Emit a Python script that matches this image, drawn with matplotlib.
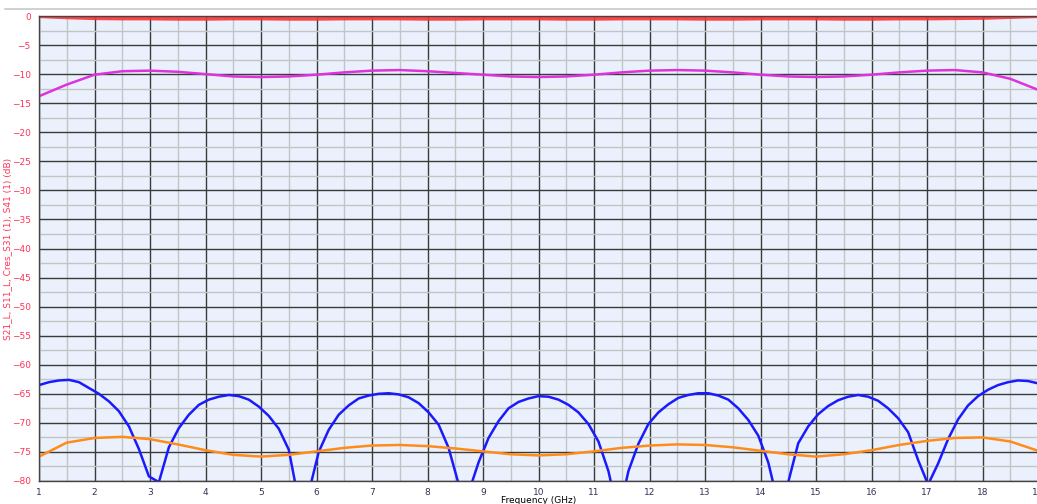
import numpy as np
import matplotlib
matplotlib.use("Agg")
import matplotlib.pyplot as plt
from matplotlib.lines import Line2D
from matplotlib.ticker import MultipleLocator

# blue trace, sampled at 101 points between 1 and 19 GHz
f_fine = np.linspace(1, 19, 101)
s31 = [-63.5, -63.0, -62.7, -62.6, -63.0, -64.0, -65.0, -66.3, -68.0, -70.6,
       -74.5, -79.2, -80.2, -74.2, -70.9, -68.6, -66.9, -66.0, -65.5, -65.2,
       -65.4, -66.0, -67.2, -68.8, -71.0, -74.6, -83.5, -82.0, -75.0, -71.2,
       -68.6, -67.0, -65.8, -65.3, -65.0, -64.9, -65.1, -65.6, -66.6, -68.2,
       -70.3, -74.3, -80.5, -82.0, -76.8, -72.6, -69.7, -67.5, -66.4, -65.8,
       -65.4, -65.5, -66.0, -66.9, -68.2, -70.2, -73.2, -78.3, -86.0, -78.3,
       -73.6, -70.2, -68.2, -66.8, -65.7, -65.2, -64.9, -64.9, -65.3, -66.0,
       -67.5, -69.5, -72.2, -76.8, -84.0, -80.2, -73.5, -70.6, -68.5, -67.1,
       -66.1, -65.5, -65.2, -65.5, -66.2, -67.5, -69.2, -71.6, -76.4, -80.6,
       -77.0, -72.8, -69.4, -67.0, -65.4, -64.3, -63.5, -63.0, -62.7, -62.8,
       -63.2]

# smooth traces, every 0.5 GHz
f_half = np.arange(1, 19.01, 0.5)
s21 = [-0.05, -0.25, -0.4, -0.45, -0.45, -0.5, -0.5, -0.45, -0.45, -0.5,
       -0.5, -0.45, -0.45, -0.45, -0.5, -0.5, -0.45, -0.45, -0.45, -0.5,
       -0.5, -0.45, -0.45, -0.45, -0.5, -0.5, -0.45, -0.45, -0.45, -0.5,
       -0.5, -0.45, -0.45, -0.4, -0.35, -0.2, -0.05]
s11 = [-13.8, -11.8, -10.1, -9.5, -9.4, -9.6, -10.0, -10.4, -10.5, -10.4,
       -10.1, -9.7, -9.4, -9.3, -9.5, -9.8, -10.1, -10.4, -10.5, -10.4,
       -10.1, -9.7, -9.4, -9.3, -9.4, -9.7, -10.1, -10.4, -10.5, -10.4,
       -10.1, -9.7, -9.4, -9.3, -9.7, -10.8, -12.7]
s41 = [-75.8, -73.4, -72.6, -72.4, -72.8, -73.7, -74.7, -75.5, -75.8, -75.5,
       -74.9, -74.3, -73.9, -73.8, -74.0, -74.4, -74.9, -75.4, -75.6, -75.4,
       -74.9, -74.3, -73.9, -73.7, -73.8, -74.2, -74.8, -75.4, -75.8, -75.4,
       -74.7, -73.8, -73.1, -72.6, -72.5, -73.2, -74.8]

fig = plt.figure(figsize=(10.37, 5.04), dpi=100)
ax = fig.add_axes([39/1037, 23/504, 999/1037, 465/504])
ax.set_facecolor('#eaf1fc')

ax.plot(f_half, s21, color='#ff3333', lw=2.6, alpha=0.9)
ax.plot(f_half, s11, color='#dd33dd', lw=1.8)
ax.plot(f_fine, s31, color='#1a1aff', lw=1.8)
ax.plot(f_half, s41, color='#ff8c1a', lw=1.8)

ax.set_xlim(1, 19)
ax.set_ylim(-80, 0)
ax.xaxis.set_major_locator(MultipleLocator(1))
ax.xaxis.set_minor_locator(MultipleLocator(0.5))
ax.yaxis.set_major_locator(MultipleLocator(5))
ax.yaxis.set_minor_locator(MultipleLocator(2.5))
ax.grid(which='major', color='#3a3a3a', lw=1.0)
ax.grid(which='minor', color='#c4c4c4', lw=1.0)
ax.set_axisbelow(True)

ax.tick_params(which='both', length=0)
ax.tick_params(axis='y', labelsize=6.5, labelcolor='#ff3355', pad=6)
ax.tick_params(axis='x', labelsize=6.5, labelcolor='#333355', pad=5)
for s in ax.spines.values():
    s.set_color('#444444')
    s.set_linewidth(1.0)

ax.set_xlabel('Frequency (GHz)', fontsize=6.5, labelpad=-1)
ax.set_ylabel('S21_L, S11_L, Cres_S31 (1), S41 (1) (dB)', fontsize=6.5,
              color='#ff3355', labelpad=0)

fig.add_artist(Line2D([5/1037, 1], [1 - 9/504, 1 - 9/504], color='#c8c8c8', lw=1.2))

fig.savefig('out.png', dpi=100)
